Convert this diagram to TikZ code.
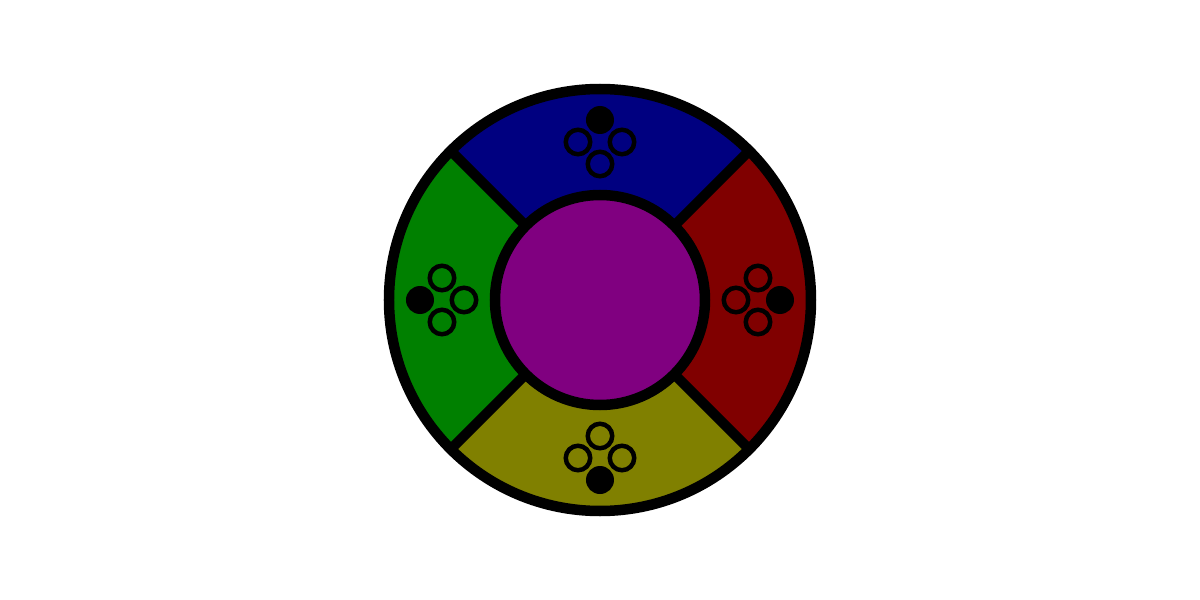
\documentclass[tikz,border=0pt]{standalone}
\usepackage{xcolor}
\usepackage{tikz}
\usetikzlibrary{calc}

\definecolor{sectnavy}{RGB}{0,0,128}
\definecolor{sectred}{RGB}{128,0,0}
\definecolor{sectgreen}{RGB}{0,128,0}
\definecolor{sectolive}{RGB}{128,128,0}
\definecolor{hubpurple}{RGB}{128,0,128}

\begin{document}
\begin{tikzpicture}[
  x=1pt, y=1pt,
  ring/.style={circle, draw=black, line width=10.5pt, outer sep=0pt, inner sep=0pt},
  fulldot/.style={circle, fill=black, minimum size=28pt, inner sep=0pt},
  holedot/.style={circle, draw=black, line width=4.5pt, minimum size=24.5pt, inner sep=0pt},
  divider/.style={line width=10pt, draw=black}
]
\useasboundingbox (-600,-300) rectangle (600,300);

% ── Sectors ──
\foreach \ang/\col in {45/sectnavy, 135/sectgreen, 225/sectolive, 315/sectred}
  \fill[\col] (\ang:105) arc[start angle=\ang, end angle=\ang+90, radius=105]
    -- (\ang+90:211) arc[start angle=\ang+90, end angle=\ang, radius=211] -- cycle;

% ── Rim, dividers and hub ──
\node[ring, minimum size=422pt] (rim) at (0,0) {};
\node[ring, fill=hubpurple, minimum size=210pt] (hub) at (0,0) {};
\foreach \ang in {45, 135, 225, 315}
  \draw[divider] (hub.\ang) -- (rim.\ang);

% ── Dot groups ──
\foreach \ang/\name in {90/top, 0/right, 180/left, 270/bottom} {
  \begin{scope}[rotate=\ang]
    \node[fulldot] (\name-full) at (180,0) {};
    \node[holedot] (\name-a) at (158,22) {};
    \node[holedot] (\name-b) at (158,-22) {};
    \node[holedot] (\name-c) at (136,0) {};
  \end{scope}
}
\end{tikzpicture}
\end{document}
